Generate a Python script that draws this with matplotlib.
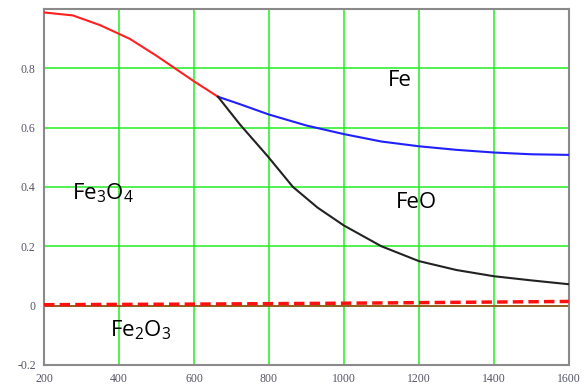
import matplotlib
matplotlib.use('Agg')
import matplotlib.pyplot as plt

# Fe3O4 -> FeO / Fe curves
red_T = [200, 277, 350, 429, 500, 549, 600, 664]
red_y = [0.988, 0.978, 0.945, 0.899, 0.842, 0.80, 0.756, 0.704]

blue_T = [664, 720, 800, 900, 1000, 1100, 1200, 1300, 1400, 1500, 1600]
blue_y = [0.704, 0.68, 0.644, 0.607, 0.578, 0.553, 0.537, 0.525, 0.516, 0.51, 0.508]

black_T = [664, 723, 797, 864, 930, 1000, 1100, 1200, 1300, 1400, 1500, 1600]
black_y = [0.704, 0.61, 0.503, 0.40, 0.33, 0.27, 0.2, 0.15, 0.12, 0.099, 0.085, 0.072]

fe2o3_T = [200, 600, 1000, 1400, 1600]
fe2o3_y = [0.003, 0.005, 0.008, 0.012, 0.014]

x_ticks = [200, 400, 600, 800, 1000, 1200, 1400, 1600]
y_ticks = [-0.2, 0, 0.2, 0.4, 0.6, 0.8]
y_labels = ['-0.2', '0', '0.2', '0.4', '0.6', '0.8']

plt.rcParams['mathtext.fontset'] = 'custom'
plt.rcParams['mathtext.rm'] = 'Open Sans'

fig = plt.figure(figsize=(5.87, 3.87), dpi=100)
ax = fig.add_axes([0.075, 0.057, 0.894, 0.920])

ax.set_xlim(200, 1600)
ax.set_ylim(-0.2, 1.0)
ax.set_xticks(x_ticks)
ax.set_yticks(y_ticks)
ax.set_yticklabels(y_labels)
ax.grid(True, color='#22ee22', linewidth=1.1)
ax.set_axisbelow(True)
ax.tick_params(length=0, labelsize=8.5, colors='#555566', pad=6)
for lab in ax.get_xticklabels() + ax.get_yticklabels():
    lab.set_family('Liberation Serif')
for s in ax.spines.values():
    s.set_color('#8a8a8a')
    s.set_linewidth(1.5)

# zero line and Fe2O3
ax.axhline(0, color='#9a4a1a', linewidth=1.2, zorder=2)
ax.plot(fe2o3_T, fe2o3_y, color='#ff1010', linewidth=2.5, dashes=(3, 1.5), zorder=3)

ax.plot(red_T, red_y, color='#ff2020', linewidth=1.5, zorder=4)
ax.plot(blue_T, blue_y, color='#2020ff', linewidth=1.5, zorder=4)
ax.plot(black_T, black_y, color='#222222', linewidth=1.5, zorder=4)

tkw = dict(fontsize=16, family='Open Sans', va='center', ha='left', color='black')
ax.text(1117, 0.76, 'Fe', **tkw)
ax.text(1139, 0.346, 'FeO', **tkw)
ax.text(275, 0.38, r'Fe$_\mathrm{3}$O$_\mathrm{4}$', **tkw)
ax.text(376, -0.084, r'Fe$_\mathrm{2}$O$_\mathrm{3}$', **tkw)

fig.savefig('out.png', dpi=100)
